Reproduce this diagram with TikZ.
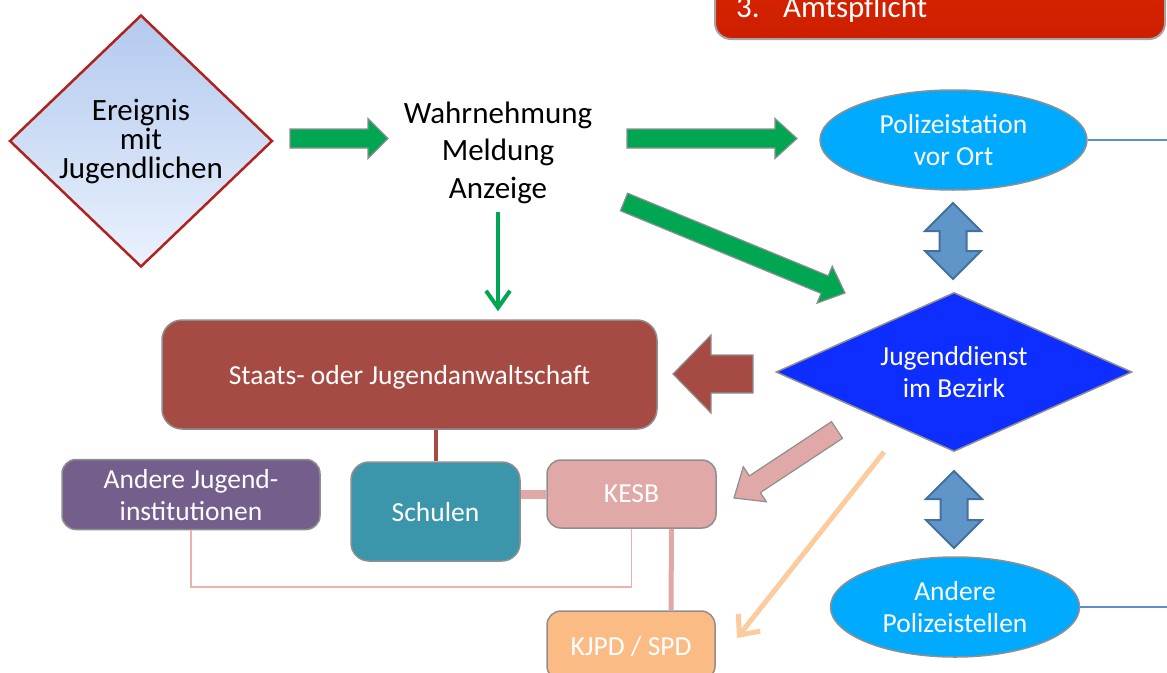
\documentclass[tikz,border=0pt]{standalone}
\usepackage{fontspec}
\setmainfont{Carlito}
\usepackage{tikz}
\usetikzlibrary{shapes.geometric,arrows.meta,calc}

\definecolor{gruen}{HTML}{00A651}
\definecolor{hellblau}{HTML}{00AAFF}
\definecolor{dienstblau}{HTML}{0E2DFF}
\definecolor{braun}{HTML}{A64B44}
\definecolor{lila}{HTML}{745E8C}
\definecolor{petrol}{HTML}{3C96AB}
\definecolor{rosa}{HTML}{E0A8A6}
\definecolor{hellrosa}{HTML}{EBB1AF}
\definecolor{kjpdfarbe}{HTML}{FBBB84}
\definecolor{pfirsich}{HTML}{FCCB9E}
\definecolor{stahl}{HTML}{6095CA}
\definecolor{stahlrand}{HTML}{41719C}
\definecolor{rand}{HTML}{8F8F8F}
\definecolor{linie}{HTML}{5B8FC9}
\definecolor{rotoben}{HTML}{E02600}
\definecolor{rotunten}{HTML}{CC1F00}
\definecolor{rauteoben}{HTML}{B3C9EE}
\definecolor{rauteunten}{HTML}{EAF2FD}
\definecolor{rauterand}{HTML}{B2221C}

\newcommand{\grossfont}{\fontsize{31}{37.5}\selectfont}
\newcommand{\boxfont}{\fontsize{27.5}{32}\selectfont}

% Blockpfeil: [stil]{start}{spitze}{schaft}{kopf}{kopflaenge}
\newcommand{\blockpfeil}[6][]{%
  \coordinate (bpH) at ($(#3)!#6!(#2)$);
  \draw[#1] ($(#2)!#4!90:(#3)$) -- ($(bpH)!#4!90:(#3)$) -- ($(bpH)!#5!90:(#3)$) -- (#3)
    -- ($(bpH)!#5!-90:(#3)$) -- ($(bpH)!#4!-90:(#3)$) -- ($(#2)!#4!-90:(#3)$) -- cycle;}

% Doppelpfeil: [stil]{oben}{unten}{schaft}{kopf}{kopflaenge}
\newcommand{\doppelpfeil}[6][]{%
  \coordinate (dpA) at ($(#2)!#6!(#3)$);
  \coordinate (dpB) at ($(#3)!#6!(#2)$);
  \draw[#1] (#2) -- ($(dpA)!#5!90:(#3)$) -- ($(dpA)!#4!90:(#3)$) -- ($(dpB)!#4!90:(#3)$)
    -- ($(dpB)!#5!90:(#3)$) -- (#3) -- ($(dpB)!#5!-90:(#3)$) -- ($(dpB)!#4!-90:(#3)$)
    -- ($(dpA)!#4!-90:(#3)$) -- ($(dpA)!#5!-90:(#3)$) -- cycle;}

\begin{document}
\begin{tikzpicture}[x=1pt,y=-1pt,
    box/.style={draw=rand, line width=1.5pt, rounded corners=14pt, text=white,
      font=\boxfont, align=center, text depth=0pt, inner sep=0pt},
    oval/.style={ellipse, draw=rand, line width=1.5pt, fill=hellblau, text=white,
      font=\boxfont, align=center, text depth=0pt, inner sep=0pt,
      minimum width=255pt, minimum height=100pt},
    gruenpfeil/.style={fill=gruen, draw=rand, line width=1.2pt},
    stahlpfeil/.style={fill=stahl, draw=stahlrand, line width=2pt},
    verbindung/.style={line width=#1},
  ]
        \useasboundingbox (0,0) rectangle (1167,672);
        \clip (0,0) rectangle (1167,672);

        % Titelbox oben rechts
        \node[draw=rand!80, line width=2pt, rounded corners=16pt, top color=rotoben,
          bottom color=rotunten, minimum width=450pt, minimum height=100pt] (pflicht) at (940,-11) {};
        \node[anchor=base west, text=white, font=\grossfont, inner sep=0pt] (amt) at (736,17)
          {3.\hspace{23.5pt}Amtspflicht};

        % Ereignis und Meldung
        \node[diamond, aspect=1.04, minimum width=263pt, minimum height=252pt, inner sep=0pt,
          top color=rauteoben, bottom color=rauteunten, draw=rauterand, line width=2.5pt,
          font=\fontsize{31}{29}\selectfont, align=center] (ereignis) at (141,141)
          {Ereignis\\mit\\Jugendlichen};
        \node[font=\grossfont, align=center, inner sep=0pt] (meldung) at (498,152.5)
          {Wahrnehmung\\Meldung\\Anzeige};

        % Polizei und Jugenddienst
        \node[oval, minimum width=267pt] (polizei) at (953.5,140) {Polizeistation\\vor Ort};
        \node[diamond, aspect=2.24, minimum width=356pt, minimum height=159pt, inner sep=0pt,
          fill=dienstblau, draw=rand, line width=1.5pt, text=white, font=\boxfont,
          align=center, text depth=0pt] (dienst) at (954,372) {Jugenddienst\\im Bezirk};
        \node[oval, minimum width=249pt] (andpol) at (955,607) {Andere\\Polizeistellen};

        % Kaesten links
        \node[box, fill=braun, rounded corners=20pt, minimum width=495pt, minimum height=109pt]
          (staats) at (409.5,374.5) {Staats- oder Jugendanwaltschaft};
        \node[box, fill=lila, minimum width=258pt, minimum height=70pt] (andere) at (191,494.5)
          {Andere Jugend-\\institutionen};
        \node[box, fill=petrol, rounded corners=18pt, minimum width=169pt, minimum height=99pt]
          (schulen) at (435.5,511.5) {Schulen};
        \node[box, fill=rosa, minimum width=169pt, minimum height=68pt] (kesb) at (631.5,494) {KESB};
        \node[box, fill=kjpdfarbe, minimum width=168pt, minimum height=69pt] (kjpd) at (631,645.5)
          {KJPD / SPD};

        % Verbindungen
        \coordinate (rechts) at (1170,0);
        \draw[linie, verbindung=1.3pt] (polizei.east) -- (polizei.east -| rechts);
        \draw[linie, verbindung=1.3pt] (andpol.east) -- (andpol.east -| rechts);
        \draw[braun, verbindung=4pt] (staats.south -| schulen.north) -- (schulen.north);
        \draw[rosa, verbindung=9pt] (kesb.west) -- (kesb.west -| schulen.east);
        \draw[hellrosa, verbindung=1.8pt] (andere.south) -- ++(0,57) -| (kesb.south);
        \draw[rosa, verbindung=5pt] ($(kesb.south)+(40,0)$) -- ($(kjpd.north)+(40,0)$);

        % Pfeile
        \coordinate (g1a) at (290,138.5);
        \coordinate (g1b) at (388,138.5);
        \coordinate (g2a) at (627,138.5);
        \coordinate (g2b) at (797,138.5);
        \coordinate (g3a) at (624,202);
        \coordinate (g3b) at (845,293);
        \blockpfeil[gruenpfeil]{g1a}{g1b}{9.5pt}{20pt}{20pt}
        \blockpfeil[gruenpfeil]{g2a}{g2b}{9.5pt}{20pt}{22pt}
        \blockpfeil[gruenpfeil]{g3a}{g3b}{9.5pt}{20pt}{22pt}
        \draw[gruen, line width=4pt, -{Straight Barb[length=17pt,width=24pt]}]
          ($(meldung.south)+(0,8)$) -- ($(staats.north -| meldung.south)+(0,-8)$);

        \coordinate (b1a) at (753,374);
        \coordinate (b1b) at (673,374);
        \blockpfeil[fill=braun, draw=rand, line width=1.2pt]{b1a}{b1b}{19pt}{39pt}{38pt}
        \coordinate (r1a) at (837,430);
        \coordinate (r1b) at (734,498);
        \blockpfeil[fill=rosa, draw=rand, line width=1.2pt]{r1a}{r1b}{10pt}{21pt}{25pt}
        \coordinate (o1a) at (884,452);
        \coordinate (o1b) at (737,638);
        \draw[pfirsich, line width=5pt, -{Straight Barb[length=16pt,width=28pt]}] (o1a) -- (o1b);

        \coordinate (d1a) at (953,203);
        \coordinate (d1b) at (953,279);
        \coordinate (d2a) at (954,471);
        \coordinate (d2b) at (954,548);
        \doppelpfeil[stahlpfeil]{d1a}{d1b}{13.5pt}{28pt}{28pt}
        \doppelpfeil[stahlpfeil]{d2a}{d2b}{13.5pt}{28pt}{28pt}
    \end{tikzpicture}
\end{document}
